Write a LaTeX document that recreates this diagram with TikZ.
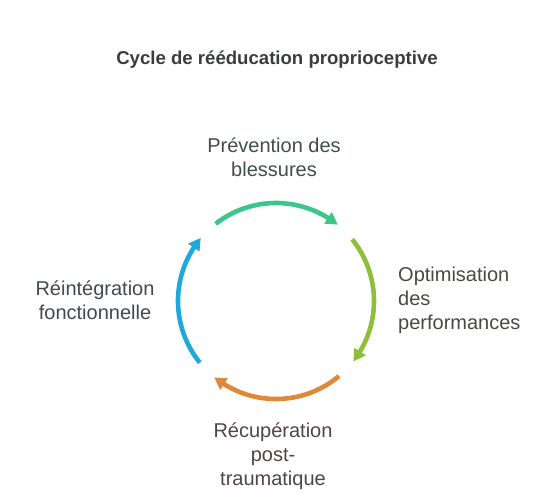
\documentclass[tikz,border=0pt]{standalone}
\usepackage{fontspec}
\setmainfont{Liberation Sans}
\usetikzlibrary{arrows.meta, bending}

\definecolor{cgreen}{HTML}{3CC68A}
\definecolor{clime}{HTML}{8EBE3A}
\definecolor{corange}{HTML}{E0883A}
\definecolor{cblue}{HTML}{1FA8DA}
\definecolor{ttitle}{HTML}{3A3D3B}
\definecolor{tgreen}{HTML}{3F4F48}
\definecolor{tlime}{HTML}{4A4A3C}
\definecolor{torange}{HTML}{504640}
\definecolor{tblue}{HTML}{3D4A52}

\tikzset{
  label text/.style={font=\fontsize{20}{24}\selectfont, align=center, inner sep=0pt},
  cycle arrow/.style={line width=4.6pt, -{Triangle[length=12pt, width=13pt, bend]}}
}

\begin{document}
\begin{tikzpicture}[x=1pt, y=-1pt]

% frame
\useasboundingbox (0, 0) rectangle (552, 500);

% title
\node[font=\bfseries\fontsize{18.6}{22}\selectfont, text=ttitle, inner sep=0pt] (title) at (277, 60) {Cycle de rééducation proprioceptive};

% labels
\node[label text, text=tgreen] (prev) at (274, 157) {Prévention des\\blessures};
\node[label text, text=tlime, align=left, anchor=west] (optim) at (398, 300) {Optimisation\\des\\performances};
\node[label text, text=torange] (recup) at (273, 456) {Récupération\\post-\\traumatique};
\node[label text, text=tblue] (reint) at (95, 300) {Réintégration\\fonctionnelle};

% cycle
\coordinate (c) at (276, 301);
\draw[cycle arrow, cgreen] (c) ++(128:98 and -98) coordinate (g1) arc[start angle=-128, end angle=-51, radius=98];
\draw[cycle arrow, clime] (c) ++(39:98 and -98) coordinate (l1) arc[start angle=-39, end angle=38, radius=98];
\draw[cycle arrow, corange] (c) ++(-50:98 and -98) coordinate (o1) arc[start angle=50, end angle=129, radius=98];
\draw[cycle arrow, cblue] (c) ++(219:98 and -98) coordinate (b1) arc[start angle=-219, end angle=-140, radius=98];

\end{tikzpicture}
\end{document}
